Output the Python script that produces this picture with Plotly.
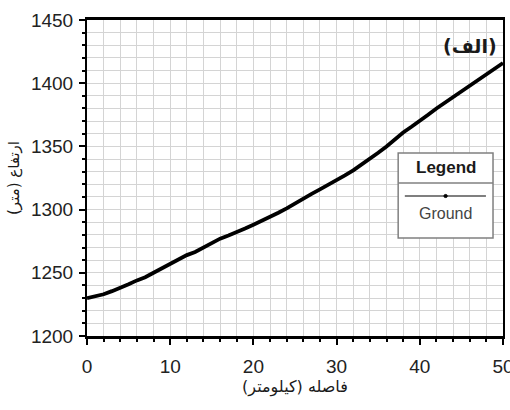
import plotly.graph_objects as go

distance_km = list(range(0, 51))
elevation_m = [1230, 1231.5, 1233, 1235.5, 1238, 1241, 1244, 1246.5, 1250, 1253.5,
               1257, 1260.5, 1264, 1266.5, 1270, 1273.5, 1277, 1279.5, 1282, 1285,
               1288, 1291, 1294, 1297.5, 1301, 1305, 1309, 1312.5, 1316, 1319.5,
               1323, 1327, 1331, 1335.5, 1340, 1345, 1350, 1355.5, 1361, 1365.5,
               1370, 1375, 1380, 1384.5, 1389, 1393.5, 1398, 1402, 1407, 1411.5, 1416]
series_name = "Ground"
x_ticks = [0, 10, 20, 30, 40, 50]
y_ticks = [1200, 1250, 1300, 1350, 1400, 1450]

fig = go.Figure()
fig.add_trace(go.Scatter(x=distance_km, y=elevation_m, mode="lines", name=series_name,
                         line=dict(color="black", width=3.8), showlegend=False))

grid_col = "#d4d4d4"
tick_font = dict(family="Liberation Sans, Arial", size=19, color="#222222")
fig.update_layout(
    width=510, height=410,
    margin=dict(l=87, r=7, t=20, b=74),
    paper_bgcolor="white", plot_bgcolor="white",
    font=dict(family="Liberation Sans, Arial", color="#1a1a1a"),
    xaxis=dict(range=[0, 50], tickvals=x_ticks, showgrid=True, gridcolor=grid_col, gridwidth=1,
               minor=dict(dtick=2, showgrid=True, gridcolor=grid_col, gridwidth=1,
                          ticks="outside", ticklen=3, tickcolor="black"),
               ticks="outside", ticklen=6, tickcolor="black", tickwidth=1.5,
               showline=True, linecolor="black", linewidth=2.5, mirror=True,
               tickfont=tick_font, zeroline=False, automargin=False,
               ticklabelstandoff=5, ticklabeloverflow="allow",
               title=dict(text="فاصله (کیلومتر)", font=dict(family="DejaVu Sans", size=16, color="#1a1a1a"),
                          standoff=4)),
    yaxis=dict(range=[1200, 1450], tickvals=y_ticks, showgrid=True, gridcolor=grid_col, gridwidth=1,
               minor=dict(dtick=10, showgrid=True, gridcolor=grid_col, gridwidth=1,
                          ticks="outside", ticklen=3, tickcolor="black"),
               ticks="outside", ticklen=6, tickcolor="black", tickwidth=1.5,
               showline=True, linecolor="black", linewidth=2, mirror=True,
               tickfont=tick_font, zeroline=False, automargin=False,
               ticklabelstandoff=2, ticklabeloverflow="allow",
               title=dict(text="ارتفاع (متر)", font=dict(family="DejaVu Sans", size=15, color="#1a1a1a"),
                          standoff=8)),
)

# legend box drawn manually (header above sample line and label)
lx0, lx1, ly0, ly1 = 0.748, 0.976, 0.310, 0.579
fig.add_shape(type="rect", xref="paper", yref="paper", x0=lx0, x1=lx1, y0=ly0, y1=ly1,
              line=dict(color="#808080", width=1.5), fillcolor="white", layer="above")
fig.add_shape(type="line", xref="paper", yref="paper", x0=lx0, x1=lx1, y0=0.484, y1=0.484,
              line=dict(color="#808080", width=1.5), layer="above")
fig.add_shape(type="line", xref="paper", yref="paper", x0=0.764, x1=0.959, y0=0.443, y1=0.443,
              line=dict(color="#555555", width=1.5), layer="above")
fig.add_shape(type="circle", xref="paper", yref="paper", x0=0.858, x1=0.866, y0=0.438, y1=0.448,
              line=dict(color="black", width=1), fillcolor="black", layer="above")
fig.add_annotation(xref="paper", yref="paper", x=0.862, y=0.534, xanchor="center", yanchor="middle",
                   text="<b>Legend</b>", showarrow=False, font=dict(size=17, color="#1a1a1a"))
fig.add_annotation(xref="paper", yref="paper", x=0.862, y=0.389, xanchor="center", yanchor="middle",
                   text=series_name, showarrow=False, font=dict(size=16, color="#444444"))
fig.add_annotation(xref="paper", yref="paper", x=0.921, y=0.918, xanchor="center", yanchor="middle",
                   text="<b>(الف)</b>", showarrow=False,
                   font=dict(family="DejaVu Sans", size=19, color="#1a1a1a"))

# remove the page's default body margin so the 510x410 figure fills the window exactly
fig.write_html("out.html", config={"displayModeBar": False},
               post_script="document.body.style.margin='0';document.body.style.overflow='hidden';")
